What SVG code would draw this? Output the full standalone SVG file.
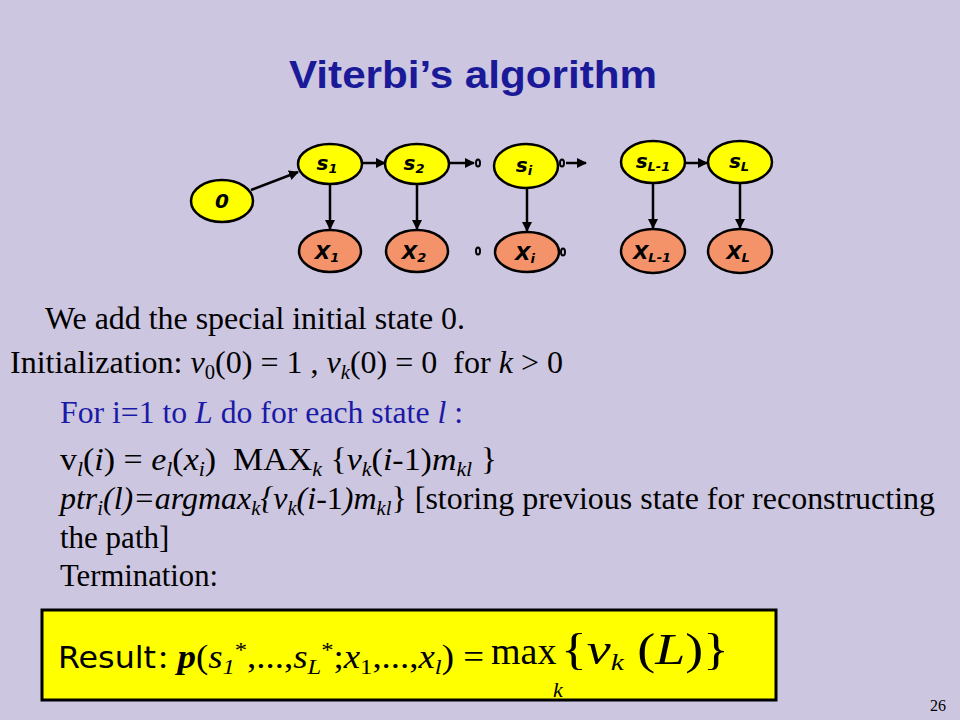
<svg xmlns="http://www.w3.org/2000/svg" width="960" height="720" viewBox="0 0 960 720">
<style>
.bg{fill:#CDC6E1}
.st{fill:#FFFF00;stroke:#000;stroke-width:2.5}
.ob{fill:#F4936A;stroke:#000;stroke-width:2.5}
.lbl{font-family:"DejaVu Sans",sans-serif;font-weight:bold;font-style:italic;font-size:20px;fill:#000;text-anchor:middle}
.sub{font-size:13px}
.edge{stroke:#000;stroke-width:2.5;fill:none;marker-end:url(#ah)}
.dot{fill:none;stroke:#000;stroke-width:2}
.tx{font-family:"Liberation Serif",serif;font-size:31px;fill:#000}
.blue{fill:#1A1AA6}
.it{font-style:italic}
.sb{font-size:20px}
</style>
<defs>
<marker id="ah" viewBox="0 0 10 10" refX="9" refY="5" markerWidth="4" markerHeight="4" orient="auto" markerUnits="strokeWidth">
<path d="M0,0 L10,5 L0,10 z" fill="#000"/>
</marker>
</defs>
<rect class="bg" x="0" y="0" width="960" height="720"/>
<text x="289" y="88" font-family="Liberation Sans, sans-serif" font-weight="bold" font-size="38" fill="#1A1A99" textLength="368" lengthAdjust="spacingAndGlyphs">Viterbi’s algorithm</text>

<g id="connectors">
<line class="edge" x1="251" y1="190" x2="298" y2="172"/>
<line class="edge" x1="362" y1="163" x2="385" y2="163"/>
<line class="edge" x1="449" y1="163" x2="474" y2="163"/>
<line class="edge" x1="566" y1="163" x2="586" y2="163"/>
<line class="edge" x1="685" y1="163" x2="707" y2="163"/>
<line class="edge" x1="330" y1="183" x2="330" y2="229"/>
<line class="edge" x1="417" y1="183" x2="417" y2="229"/>
<line class="edge" x1="527" y1="188" x2="527" y2="231"/>
<line class="edge" x1="653" y1="183" x2="653" y2="228"/>
<line class="edge" x1="740" y1="183" x2="740" y2="228"/>
<ellipse class="dot" cx="478" cy="163" rx="2" ry="3.5"/>
<ellipse class="dot" cx="562" cy="163" rx="2" ry="3.5"/>
<ellipse class="dot" cx="478" cy="251" rx="2" ry="3.5"/>
<ellipse class="dot" cx="563" cy="252" rx="2" ry="3.5"/>
</g>

<g id="n0"><ellipse class="st" cx="222" cy="201" rx="31" ry="21"/><text class="lbl" x="222" y="208">0</text></g>
<g id="s1"><ellipse class="st" cx="330" cy="164" rx="32" ry="20"/><text class="lbl" x="327" y="170">s<tspan class="sub" dy="3">1</tspan></text></g>
<g id="s2"><ellipse class="st" cx="417" cy="164" rx="32" ry="20"/><text class="lbl" x="414" y="170">s<tspan class="sub" dy="3">2</tspan></text></g>
<g id="si"><ellipse class="st" cx="526" cy="166" rx="32" ry="22"/><text class="lbl" x="524" y="172">s<tspan class="sub" dy="3">i</tspan></text></g>
<g id="sL1"><ellipse class="st" cx="653" cy="162" rx="32" ry="21"/><text class="lbl" x="653" y="168">s<tspan class="sub" dy="3">L-1</tspan></text></g>
<g id="sL"><ellipse class="st" cx="740" cy="162" rx="32" ry="21"/><text class="lbl" x="739" y="168">s<tspan class="sub" dy="3">L</tspan></text></g>
<g id="x1"><ellipse class="ob" cx="330" cy="251" rx="31" ry="21"/><text class="lbl" x="327" y="259">X<tspan class="sub" dy="3">1</tspan></text></g>
<g id="x2"><ellipse class="ob" cx="417" cy="251" rx="31" ry="21"/><text class="lbl" x="414" y="259">X<tspan class="sub" dy="3">2</tspan></text></g>
<g id="xi"><ellipse class="ob" cx="527" cy="252" rx="32" ry="20"/><text class="lbl" x="525" y="260">X<tspan class="sub" dy="3">i</tspan></text></g>
<g id="xL1"><ellipse class="ob" cx="653" cy="251" rx="32" ry="22"/><text class="lbl" x="652" y="259">X<tspan class="sub" dy="3">L-1</tspan></text></g>
<g id="xL"><ellipse class="ob" cx="740" cy="251" rx="32" ry="22"/><text class="lbl" x="738" y="259">X<tspan class="sub" dy="3">L</tspan></text></g>

<text class="tx" x="45" y="329" textLength="420" lengthAdjust="spacingAndGlyphs">We add the special initial state 0.</text>
<text class="tx" x="10" y="373" xml:space="preserve" textLength="553" lengthAdjust="spacingAndGlyphs">Initialization: <tspan class="it">v</tspan><tspan class="sb" dy="6">0</tspan><tspan dy="-6">(0) = 1 , </tspan><tspan class="it">v</tspan><tspan class="sb it" dy="6">k</tspan><tspan dy="-6">(0) = 0  for </tspan><tspan class="it">k</tspan> &gt; 0</text>
<text class="tx blue" x="60" y="423" textLength="403" lengthAdjust="spacingAndGlyphs">For i=1 to <tspan class="it">L</tspan> do for each state <tspan class="it">l</tspan> :</text>
<text class="tx" x="60" y="470" xml:space="preserve" textLength="437" lengthAdjust="spacingAndGlyphs">v<tspan class="sb it" dy="6">l</tspan><tspan dy="-6">(</tspan><tspan class="it">i</tspan>) = <tspan class="it">e</tspan><tspan class="sb it" dy="6">l</tspan><tspan dy="-6">(</tspan><tspan class="it">x</tspan><tspan class="sb it" dy="6">i</tspan><tspan dy="-6">)  MAX</tspan><tspan class="sb it" dy="6">k</tspan><tspan dy="-6"> {</tspan><tspan class="it">v</tspan><tspan class="sb it" dy="6">k</tspan><tspan dy="-6">(</tspan><tspan class="it">i</tspan>-1)<tspan class="it">m</tspan><tspan class="sb it" dy="6">kl</tspan><tspan dy="-6"> }</tspan></text>
<text class="tx" x="60" y="509" textLength="875" lengthAdjust="spacingAndGlyphs"><tspan class="it">ptr</tspan><tspan class="sb it" dy="6">i</tspan><tspan class="it" dy="-6">(l)=argmax</tspan><tspan class="sb it" dy="6">k</tspan><tspan class="it" dy="-6">{v</tspan><tspan class="sb it" dy="6">k</tspan><tspan class="it" dy="-6">(i-</tspan>1<tspan class="it">)m</tspan><tspan class="sb it" dy="6">kl</tspan><tspan dy="-6">} [storing previous state for reconstructing</tspan></text>
<text class="tx" x="60" y="548">the path]</text>
<text class="tx" x="60" y="586" textLength="158" lengthAdjust="spacingAndGlyphs">Termination:</text>

<g id="result">
<rect x="42" y="610" width="734" height="90" fill="#FFFF00" stroke="#000" stroke-width="3"/>
<text x="58" y="668" font-family="DejaVu Sans, sans-serif" font-size="30" fill="#000" textLength="98" lengthAdjust="spacingAndGlyphs">Result</text>
<text x="158" y="668" font-family="Liberation Serif, serif" font-size="33" fill="#000" textLength="326" lengthAdjust="spacingAndGlyphs">: <tspan font-weight="bold" font-style="italic">p</tspan>(<tspan font-style="italic">s</tspan><tspan font-size="22" font-style="italic" dy="6">1</tspan><tspan font-size="22" dy="-17">*</tspan><tspan dy="11">,...,</tspan><tspan font-style="italic">s</tspan><tspan font-size="22" font-style="italic" dy="6">L</tspan><tspan font-size="22" dy="-17">*</tspan><tspan dy="11">;</tspan><tspan font-style="italic">x</tspan><tspan font-size="22" dy="6">1</tspan><tspan dy="-6">,...,</tspan><tspan font-style="italic">x</tspan><tspan font-size="22" font-style="italic" dy="6">l</tspan><tspan dy="-6">) =</tspan></text>
<text x="491" y="664" font-family="Liberation Serif, serif" font-size="38" fill="#000">max</text>
<text x="553" y="697" font-family="Liberation Serif, serif" font-style="italic" font-size="22" fill="#000">k</text>
<text x="561" y="664" font-family="Liberation Serif, serif" font-size="44" fill="#000" textLength="168" lengthAdjust="spacingAndGlyphs">{<tspan font-style="italic">v</tspan><tspan font-style="italic" font-size="24" dy="6">k</tspan><tspan dy="-6"> (</tspan><tspan font-style="italic">L</tspan>)}</text>
</g>
<text x="938" y="711" font-family="Liberation Serif, serif" font-size="16" fill="#000" text-anchor="middle">26</text>
</svg>
